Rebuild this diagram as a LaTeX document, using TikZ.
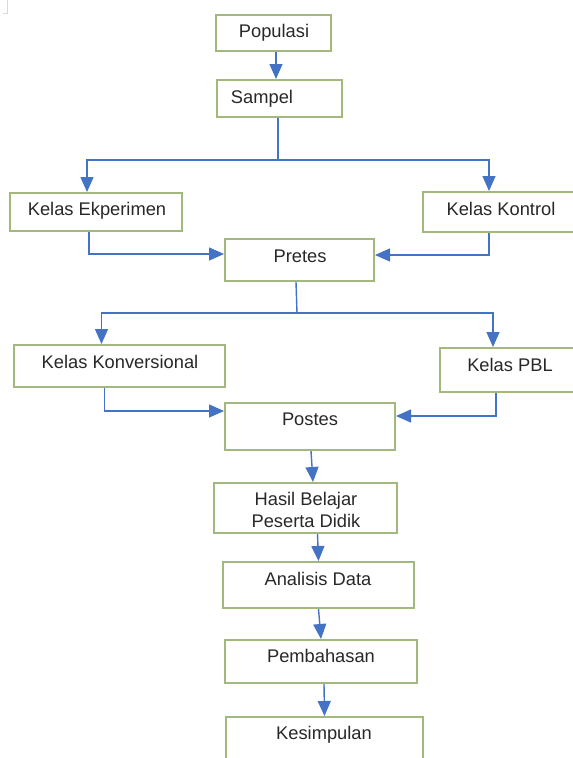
\documentclass[tikz,border=0pt]{standalone}
\usepackage{fontspec}
\setmainfont{Liberation Sans}
\usetikzlibrary{arrows.meta}
\definecolor{boxc}{RGB}{163,184,124}
\definecolor{arrc}{RGB}{68,114,196}
\definecolor{txtc}{RGB}{40,40,40}
\begin{document}
\begin{tikzpicture}[x=1pt,y=-1pt,
  box/.style={draw=boxc, line width=2pt, rectangle, inner sep=0pt, fill=white},
  lbl/.style={text=txtc, font=\fontsize{18.3}{22}\selectfont, inner sep=0pt, text height=13pt, text depth=0pt},
  lbltwo/.style={text=txtc, font=\fontsize{18.3}{22}\selectfont, inner sep=0pt, align=center},
  conn/.style={draw=arrc, line width=1.4pt},
  arr/.style={conn, -{Triangle[width=13pt,length=15pt]}}]
\useasboundingbox (0,0) rectangle (573,758);
\clip (0,0) rectangle (573,758);
\fill[white] (0,0) rectangle (573,758);
\draw[gray!30, line width=1pt] (7,0) -- (7,13) -- (3,13);

% boxes
\node[box, minimum width=115pt, minimum height=36pt] (pop) at (273.5,33) {};
\node[box, minimum width=125pt, minimum height=37pt] (sam) at (279.5,98.5) {};
\node[box, minimum width=172pt, minimum height=38pt] (ekp) at (96,212) {};
\node[box, minimum width=156pt, minimum height=40pt] (kon) at (501,212) {};
\node[box, minimum width=149pt, minimum height=42pt] (pre) at (299.5,260) {};
\node[box, minimum width=211pt, minimum height=42pt] (kv) at (119.5,366) {};
\node[box, minimum width=140pt, minimum height=44pt] (pbl) at (510,370) {};
\node[box, minimum width=170pt, minimum height=47pt] (pos) at (310,426.5) {};
\node[box, minimum width=183pt, minimum height=50pt] (has) at (305.5,508) {};
\node[box, minimum width=191pt, minimum height=46pt] (ana) at (318.5,585) {};
\node[box, minimum width=192pt, minimum height=43pt] (pem) at (321,661.5) {};
\node[box, minimum width=197pt, minimum height=50pt] (kes) at (324.5,742) {};

% texts
\node[lbl] (tpop) at (274,31) {Populasi};
\node[lbl] (tsam) at (262,97) {Sampel};
\node[lbl] (tekp) at (97,209) {Kelas Ekperimen};
\node[lbl] (tkon) at (501,209) {Kelas Kontrol};
\node[lbl] (tpre) at (300,256) {Pretes};
\node[lbl] (tkv) at (120,362) {Kelas Konversional};
\node[lbl] (tpbl) at (510,365) {Kelas PBL};
\node[lbl] (tpos) at (310,419) {Postes};
\node[lbltwo] (thas) at (306,510) {Hasil Belajar\\Peserta Didik};
\node[lbl] (tana) at (318,579) {Analisis Data};
\node[lbl] (tpem) at (321,656) {Pembahasan};
\node[lbl] (tkes) at (324,733) {Kesimpulan};

% junctions
\coordinate (j1) at (278,160);
\coordinate (j2) at (297,313);

% connectors
\draw[arr] ([xshift=2.5pt]pop.south) -- ([xshift=2.5pt]pop.south |- sam.north);
\draw[conn] (sam.south -| j1) -- (j1);
\draw[arr] (j1) -| ([xshift=-9pt]ekp.north);
\draw[arr] (j1) -| ([xshift=-12pt]kon.north);
\draw[arr] ([xshift=-7pt]ekp.south) |- ([yshift=6pt]pre.west);
\draw[arr] ([xshift=-12pt]kon.south) |- ([yshift=5pt]pre.east);
\draw[conn] ([xshift=-3.5pt]pre.south) -- (j2);
\draw[arr] (j2) -| ([xshift=-18pt]kv.north);
\draw[arr] (j2) -| ([xshift=-17pt]pbl.north);
\draw[arr] ([xshift=-15pt]kv.south) |- ([yshift=15.5pt]pos.west);
\draw[arr] ([xshift=-14pt]pbl.south) |- ([yshift=10.5pt]pos.east);
\draw[arr] ([xshift=1pt]pos.south) -- ([xshift=7.5pt]has.north);
\draw[arr] ([xshift=12pt]has.south) -- (ana.north);
\draw[arr] (ana.south) -- (pem.north);
\draw[arr] ([xshift=3pt]pem.south) -- (kes.north);
\end{tikzpicture}
\end{document}
